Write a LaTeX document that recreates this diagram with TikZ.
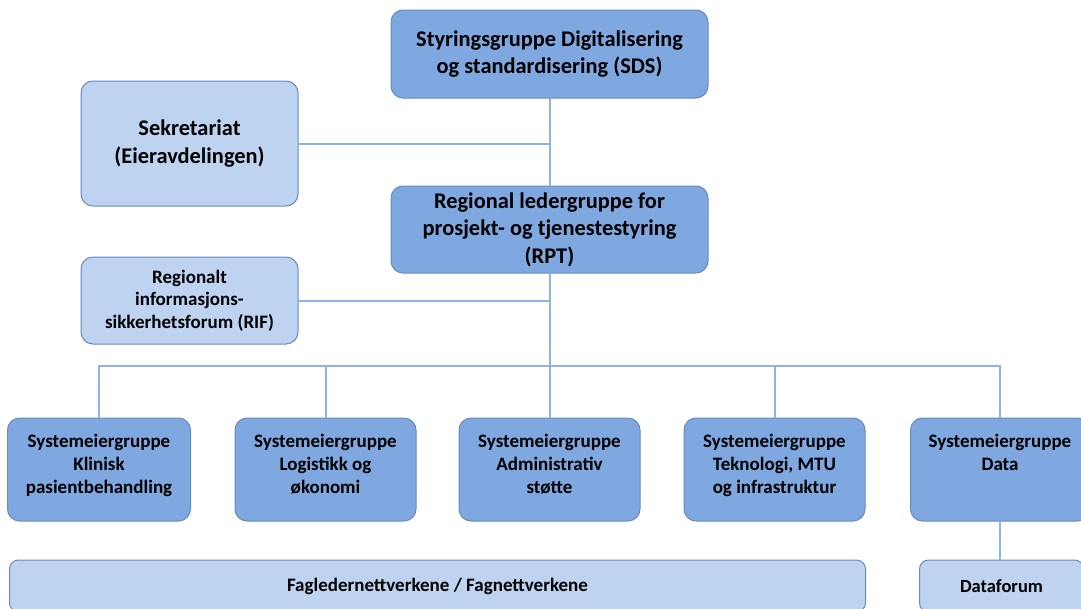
\documentclass[tikz,border=0pt]{standalone}
\usepackage{fontspec}
\setmainfont{Carlito}
\usetikzlibrary{positioning}
\definecolor{darkbox}{RGB}{128,168,224}
\definecolor{lightbox}{RGB}{190,211,240}
\definecolor{boxline}{RGB}{105,138,190}
\definecolor{linkcol}{RGB}{142,180,227}
\tikzstyle{mainbox} = [rectangle, rounded corners=12pt, align=center, draw=boxline, line width=1pt, fill=darkbox, font=\fontsize{22.4}{27.5}\selectfont\bfseries]
\tikzstyle{sidebox} = [rectangle, rounded corners=12pt, align=center, draw=boxline, line width=1pt, fill=lightbox, font=\fontsize{22.4}{27.5}\selectfont\bfseries]
\tikzstyle{groupbox} = [mainbox, minimum width=181pt, minimum height=103pt, text depth=11pt, font=\fontsize{19}{23}\selectfont\bfseries]
\tikzstyle{link} = [draw=linkcol, line width=2pt]

\begin{document}
\begin{tikzpicture}[x=1pt,y=-1pt,node distance=175.5pt]
\useasboundingbox (0,0) rectangle (1081,608);
\node (sds) [mainbox, minimum width=317pt, minimum height=88pt] at (549.5,54) {Styringsgruppe Digitalisering\\og standardisering (SDS)};
\node (rpt) [mainbox, below of=sds, minimum width=317pt, minimum height=87pt] {Regional ledergruppe for\\prosjekt- og tjenestestyring\\(RPT)};
\node (sek) [sidebox, left of=sds, xshift=-184.5pt, yshift=-89.5pt, minimum width=217pt, minimum height=125pt] {Sekretariat\\(Eieravdelingen)};
\node (rif) [sidebox, below of=sek, yshift=18.5pt, minimum width=217pt, minimum height=87pt, font=\fontsize{19}{22.5}\selectfont\bfseries] {Regionalt\\informasjons-\\sikkerhetsforum (RIF)};
\coordinate (bus) at (549.5,366);

% systemeiergrupper
\node (sg3) [groupbox, below of=rpt, yshift=-64.5pt] {Systemeiergruppe\\Administrativ\\støtte};
\node (sg2) [groupbox, left of=sg3, node distance=224pt] {Systemeiergruppe\\Logistikk og\\økonomi};
\node (sg1) [groupbox, left of=sg2, node distance=226.5pt, minimum width=183pt] {Systemeiergruppe\\Klinisk\\pasientbehandling};
\node (sg4) [groupbox, right of=sg3, node distance=225pt] {Systemeiergruppe\\Teknologi, MTU\\og infrastruktur};
\node (sg5) [groupbox, right of=sg4, node distance=225.5pt, minimum width=179pt] {Systemeiergruppe\\Data\\\mbox{}};

\node (fag) [sidebox, below of=sg1, node distance=116.5pt, xshift=338.5pt, minimum width=856pt, minimum height=52pt, rounded corners=9pt, font=\fontsize{19}{23}\selectfont\bfseries] {Fagledernettverkene / Fagnettverkene};
\node (dforum) [sidebox, below of=sg5, node distance=116.5pt, xshift=1.5pt, minimum width=164pt, minimum height=52pt, rounded corners=9pt, font=\fontsize{18.5}{23}\selectfont\bfseries] {Dataforum};

\draw [link] (sds) -- (rpt);
\draw [link] (sek.east) -- (sek.east -| sds.south);
\draw [link] (rpt.south) -- (bus);
\draw [link] (rif.east) -- (rif.east -| bus);
\foreach \n in {sg1,sg2,sg3,sg4,sg5}
  \draw [link] (\n.north) |- (bus);
\draw [link] (sg5.south) -- (sg5.south |- dforum.north);
\end{tikzpicture}
\end{document}
